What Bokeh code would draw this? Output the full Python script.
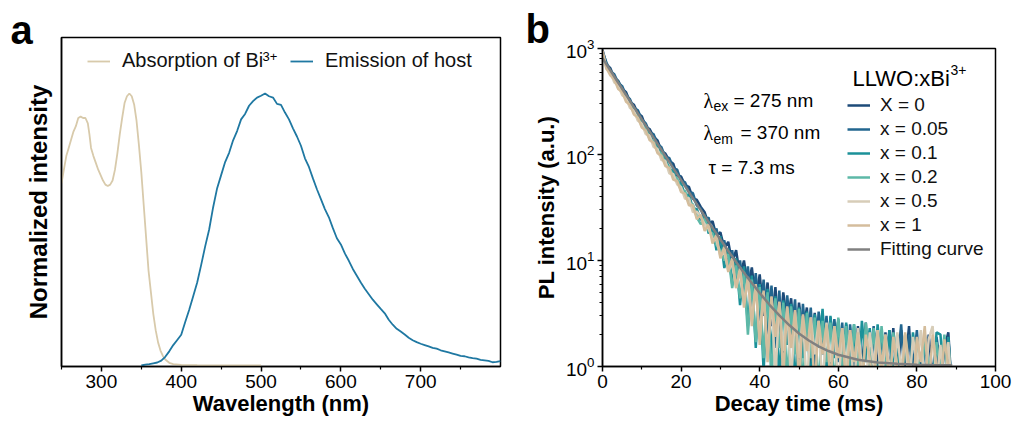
from bokeh.plotting import figure
from bokeh.models import Range1d, FixedTicker, Legend, LegendItem, Label
from bokeh.layouts import row, column
from bokeh.embed import file_html
from bokeh.resources import INLINE

FONT = "Liberation Sans"
SERIF = "Liberation Serif"

# ---------------- panel a data ----------------
abs_nm = [250, 253, 256, 259, 262, 265, 268, 271, 274, 277, 280, 283, 285, 287, 290, 293, 296, 299,
          302, 305, 308, 311, 314, 317, 320, 323, 326, 329, 332, 335, 338, 341, 344, 347, 350, 353,
          356, 359, 362, 365, 368, 371, 374, 377, 380, 385, 390, 400, 420, 450, 500]
abs_val = [0.67, 0.72, 0.77, 0.80, 0.83, 0.86, 0.88, 0.91, 0.915, 0.91, 0.91, 0.89, 0.85, 0.80, 0.77,
           0.745, 0.72, 0.70, 0.68, 0.665, 0.66, 0.665, 0.68, 0.72, 0.78, 0.85, 0.91, 0.965, 0.99, 1.0,
           0.99, 0.96, 0.90, 0.81, 0.71, 0.59, 0.47, 0.35, 0.27, 0.19, 0.13, 0.085, 0.055, 0.035, 0.022,
           0.01, 0.005, 0.002, 0.001, 0.0, 0.0]

em_nm = [350, 355, 360, 365, 370, 375, 380, 385, 390, 395, 400, 405, 410, 415, 420, 425, 430, 435,
         440, 445, 450, 455, 460, 465, 470, 475, 480, 485, 490, 495, 500, 505, 510, 515, 520, 525,
         530, 535, 540, 545, 550, 555, 560, 565, 570, 575, 580, 585, 590, 595, 600, 605, 610, 615,
         620, 625, 630, 635, 640, 645, 650, 655, 660, 665, 670, 675, 680, 685, 690, 695, 700, 705,
         710, 715, 720, 725, 730, 735, 740, 745, 750, 755, 760, 765, 770, 775, 780, 785, 790, 795, 800]
em_val = [0.000, 0.003, 0.005, 0.008, 0.011, 0.018, 0.032, 0.052, 0.075, 0.094, 0.113, 0.160, 0.205,
          0.255, 0.305, 0.370, 0.438, 0.500, 0.582, 0.652, 0.700, 0.748, 0.782, 0.828, 0.862, 0.905,
          0.925, 0.955, 0.972, 0.985, 0.992, 1.000, 0.990, 0.985, 0.962, 0.958, 0.930, 0.905, 0.872,
          0.842, 0.808, 0.762, 0.730, 0.688, 0.648, 0.612, 0.575, 0.545, 0.505, 0.468, 0.445, 0.412,
          0.385, 0.355, 0.330, 0.305, 0.282, 0.262, 0.242, 0.225, 0.208, 0.192, 0.168, 0.150, 0.135,
          0.125, 0.114, 0.102, 0.093, 0.086, 0.080, 0.075, 0.070, 0.065, 0.062, 0.056, 0.052, 0.048,
          0.044, 0.040, 0.035, 0.034, 0.030, 0.027, 0.025, 0.021, 0.019, 0.017, 0.012, 0.013, 0.016]

wl_major = [300, 400, 500, 600, 700]
wl_minor = [250, 350, 450, 550, 650, 750]

# ---------------- panel b data ----------------
decay_t = [0, 1, 2, 3, 4, 5, 6, 7, 8, 9, 10, 11, 12, 13, 14, 15, 16, 17, 18, 19, 20, 21, 22, 23, 24,
           25, 26, 27, 28, 29, 30, 31, 32, 33, 34, 35, 36, 37, 38, 39, 40, 41, 42, 43, 44,
           45, 46, 47, 48, 49, 50, 51, 52, 53, 54, 55, 56, 57, 58, 59, 60, 61, 62, 63, 64,
           65, 66, 67, 68, 69, 70, 71, 72, 73, 74, 75, 76, 77, 78, 79, 80, 81, 82, 83, 84,
           85, 86, 87, 88, 89]
decay_x0 = [973, 710, 652, 528, 495, 417, 387, 313, 294, 245, 229.5, 182, 174, 147, 136, 108, 102,
            87.5, 82, 63.3, 61.9, 51.3, 49.4, 38.3, 37.4,
            32, 28.5, 22, 23.5, 17, 18.5, 13, 15, 9.5, 12.5,
            7, 10, 5.5, 8.6, 4.2, 7.4, 3.0, 6.2, 2.4, 5.6,
            1.8, 5.0, 2.6, 4.4, 1.4, 4.0, 2.0, 3.6, 0.9, 3.2,
            1.6, 3.3, 0.8, 2.9, 1.3, 2.7, 0.7, 2.5, 1.2, 0.6,
            2.4, 1.0, 2.6, 0.6, 2.2, 1.1, 0.6, 2.1, 0.9, 2.3,
            0.6, 2.2, 1.0, 2.4, 0.6, 1.9, 1.0, 0.6, 2.0, 0.8,
            1.7, 0.6, 1.5, 2.1, 0.5]
decay_x005 = [933, 738, 609, 571, 476, 442, 361, 332, 272, 262, 214.5, 197, 161, 155.5, 126, 117, 94,
              92.7, 74.5, 71.8, 56.2, 54.8, 44.1, 43.3, 33,
              31, 24, 25.5, 17.5, 20, 12.5, 15.5, 9, 12.5, 6.5,
              10, 5, 8.8, 3.6, 7.6, 2.7, 6.6, 2.0, 5.8, 1.5,
              5.2, 1.0, 4.7, 1.9, 4.3, 0.8, 3.9, 1.5, 3.6, 0.8,
              3.3, 1.3, 3.0, 0.7, 2.8, 1.1, 2.6, 0.6, 2.5, 1.0,
              2.3, 0.6, 2.1, 1.1, 2.4, 0.6, 2.0, 0.9, 2.2, 0.6,
              1.0, 2.5, 0.6, 2.0, 1.0, 2.2, 0.6, 1.6, 0.9, 0.6,
              1.9, 1.0, 0.6, 1.8, 0.5]
decay_x01 = [892, 689, 621, 517, 486, 392, 365, 297, 277, 225, 210, 169, 160, 127, 121, 99.5, 92, 73,
             70, 55.5, 53.3, 41.2, 41.9, 31, 30.6,
             24, 27, 18, 21, 12.5, 17, 8.5, 13, 6, 10.5,
             3.8, 8.8, 2.4, 7.2, 1.5, 6.0, 0.9, 5.4, 1.3, 4.6,
             0.7, 4.2, 1.6, 3.9, 0.6, 3.6, 1.2, 3.3, 0.6, 3.1,
             1.5, 3.5, 0.7, 3.0, 1.2, 2.8, 0.6, 2.6, 1.0, 2.5,
             0.6, 2.7, 1.1, 2.3, 0.6, 2.5, 1.0, 0.6, 2.2, 0.9,
             2.0, 0.6, 1.8, 0.6, 2.1, 1.0, 0.6, 2.0, 1.0, 0.6,
             2.1, 2.0, 0.6, 1.9, 0.5]
decay_x02 = [852, 675, 578, 528, 428, 400, 328.5, 303.5, 246, 230, 186.6, 175, 141.5, 132.5, 107, 103,
             81.5, 76.5, 61, 60, 45.8, 45.3, 34.4, 34, 25.5,
             22, 25, 19, 18, 14, 12.5, 10, 11.5, 5.5, 9,
             4.4, 7.8, 2.0, 6.6, 1.7, 5.6, 1.2, 5.0, 0.7, 4.4,
             1.5, 4.0, 0.7, 3.7, 1.3, 3.5, 0.6, 3.2, 1.2, 2.9,
             0.6, 2.7, 1.1, 2.6, 0.6, 2.9, 1.0, 2.4, 0.6, 2.5,
             1.1, 0.6, 2.6, 1.0, 2.3, 0.6, 2.4, 1.0, 0.6, 2.1,
             1.0, 0.6, 2.0, 1.0, 0.6, 1.8, 0.6, 2.0, 1.1, 0.6,
             1.7, 0.9, 2.0, 0.6, 0.5]
decay_x05 = [908, 639, 596, 479, 452, 363, 343, 275, 260, 208, 197, 156, 151, 118, 113, 88.5, 87.3,
             66.3, 65.6, 52.2, 49.3, 38.2, 38.8, 28.6, 28.9,
             26, 22, 20, 16, 15.5, 11, 12, 8, 9.5, 5.5,
             8, 4, 6.8, 2.8, 5.8, 1.9, 5.0, 1.3, 4.5, 0.8,
             4.0, 1.4, 3.6, 0.7, 3.3, 1.2, 3.0, 0.6, 2.9, 1.3,
             2.7, 0.6, 2.6, 1.1, 2.4, 0.6, 2.3, 1.0, 2.2, 0.6,
             2.3, 1.0, 0.6, 2.1, 1.0, 2.2, 0.6, 2.0, 1.0, 0.6,
             2.1, 0.9, 2.0, 0.6, 1.9, 1.0, 2.2, 0.6, 1.8, 2.4,
             0.7, 1.6, 0.6, 1.7, 0.5]
decay_x1 = [957, 653, 559, 511, 414, 388, 314, 294, 238, 223, 180, 169, 136.5, 129.6, 103, 97.3, 77.6,
            74.8, 58.1, 56.2, 44.1, 42.8, 33.1, 33.3, 24.5,
            27, 19, 22, 14.5, 17.5, 10.5, 13.5, 7.8, 10.5, 5.5,
            8.6, 3.6, 7.0, 2.4, 6.0, 1.6, 5.2, 1.1, 4.6, 1.9,
            4.1, 0.8, 3.7, 1.5, 3.4, 0.7, 3.1, 1.4, 2.9, 0.6,
            2.7, 1.3, 2.5, 0.7, 2.4, 1.2, 2.3, 0.6, 2.2, 1.1,
            2.1, 0.6, 2.0, 1.2, 0.6, 2.2, 1.0, 2.0, 0.6, 1.9,
            1.0, 0.6, 2.1, 1.0, 0.6, 1.9, 1.1, 2.4, 0.6, 2.0,
            1.0, 0.6, 1.8, 1.0, 0.5]

fit_t = [0, 2.5, 5, 7.5, 10, 12.5, 15, 17.5, 20, 22.5, 25, 27.5, 30, 32.5, 35, 37.5, 40, 42.5, 45,
         47.5, 50, 52.5, 55, 57.5, 60, 65, 70, 75, 80, 85, 89]
fit_val = [811, 581, 417, 299, 214.5, 154, 110.6, 79.5, 57.3, 41.3, 29.9, 21.7, 15.8, 11.6, 8.6, 6.48,
           4.93, 3.82, 3.03, 2.46, 2.05, 1.76, 1.55, 1.40, 1.29, 1.16, 1.09, 1.06, 1.04, 1.03, 1.03]

series_labels = ["X = 0", "x = 0.05", "x = 0.1", "x = 0.2", "x = 0.5", "x = 1"]
series_values = [decay_x0, decay_x005, decay_x01, decay_x02, decay_x05, decay_x1]
series_colors = ["#1d4a78", "#22668f", "#1b9199", "#5db8a7", "#d7cdb8", "#d4bd9c"]

time_major = [0, 20, 40, 60, 80, 100]
time_minor = [10, 30, 50, 70, 90]
pl_major = [1, 10, 100, 1000]
pl_minor = [2, 3, 4, 5, 6, 7, 8, 9, 20, 30, 40, 50, 60, 70, 80, 90, 200, 300, 400, 500, 600, 700, 800, 900]


def style_axis(ax):
    ax.axis_line_width = 1.5
    ax.axis_line_color = "black"
    ax.major_tick_line_width = 1.5
    ax.major_tick_line_color = "black"
    ax.minor_tick_line_width = 1.2
    ax.minor_tick_line_color = "black"
    ax.major_tick_in = 0
    ax.major_tick_out = 5
    ax.minor_tick_in = 0
    ax.minor_tick_out = 3
    ax.major_label_text_font = FONT
    ax.major_label_text_font_size = "19px"
    ax.major_label_text_color = "black"
    ax.major_label_standoff = 3
    ax.axis_label_text_font = FONT
    ax.axis_label_text_font_size = "22px"
    ax.axis_label_text_font_style = "bold"
    ax.axis_label_text_color = "black"
    ax.axis_label_standoff = 0


def lab(p, x, y, text, dx, dy, size, font=FONT, style="normal", align="left", color="black"):
    p.add_layout(Label(x=x, y=y, x_offset=dx, y_offset=dy, text=text, text_font=font,
                       text_font_size=size, text_font_style=style, text_align=align,
                       text_baseline="middle", text_color=color))


def panel_letter(p, offset, standoff):
    p.title.text_font = FONT
    p.title.text_font_size = "40px"
    p.title.text_font_style = "bold"
    p.title.text_color = "black"
    p.title.align = "left"
    p.title.offset = offset
    p.title.standoff = standoff


# ---------------- panel a ----------------
pa = figure(width=510, height=421, x_range=Range1d(250, 800), y_range=Range1d(-0.0037, 1.206),
            title="a", output_backend="svg", toolbar_location=None,
            min_border_left=61, min_border_right=10, min_border_top=37, min_border_bottom=55)
panel_letter(pa, -51, -29)
pa.grid.visible = False
pa.outline_line_color = "black"
pa.outline_line_width = 1.5
pa.outline_line_alpha = 1

r_abs = pa.line(abs_nm, abs_val, line_color="#d8caab", line_width=1.8)
r_em = pa.line(em_nm, em_val, line_color="#1f78a2", line_width=1.8)

style_axis(pa.xaxis[0])
pa.xaxis.ticker = FixedTicker(ticks=wl_major, minor_ticks=wl_minor)
pa.xaxis.axis_label = "Wavelength (nm)"
ya = pa.yaxis[0]
style_axis(ya)
ya.ticker = FixedTicker(ticks=[], minor_ticks=[])
ya.major_tick_out = 0
ya.minor_tick_out = 0
ya.axis_label = "Normalized intensity"
ya.axis_label_text_font_size = "24px"
ya.axis_label_standoff = 10

for item_label, rend, xloc in [("Absorption of Bi", r_abs, 26), ("Emission of host", r_em, 229)]:
    lg = Legend(items=[LegendItem(label=item_label, renderers=[rend])], location=(xloc, 294),
                orientation="horizontal", border_line_color=None, background_fill_alpha=0,
                padding=0, margin=0, spacing=0, glyph_width=23, glyph_height=20,
                label_height=20, label_standoff=12, label_text_font=FONT,
                label_text_font_size="20px", label_text_color="#111111")
    pa.add_layout(lg)

lab(pa, 250, -0.0037, "3+", 201, 310, "13px")

# ---------------- panel b ----------------
pb = figure(width=503, height=421, x_range=Range1d(0, 100), y_range=Range1d(1, 1000),
            y_axis_type="log", title="b", output_backend="svg", toolbar_location=None,
            min_border_left=92, min_border_right=18, min_border_top=48, min_border_bottom=55)
panel_letter(pb, -77, -5)
pb.grid.visible = False
pb.outline_line_color = "black"
pb.outline_line_width = 1.5
pb.outline_line_alpha = 1

items = []
for name, vals, col in zip(series_labels, series_values, series_colors):
    r = pb.line(decay_t, vals, line_color=col, line_width=2.5)
    items.append(LegendItem(label=name, renderers=[r]))
r_fit = pb.line(fit_t, fit_val, line_color="#808080", line_width=2.5)
items.append(LegendItem(label="Fitting curve", renderers=[r_fit]))

style_axis(pb.xaxis[0])
pb.xaxis.ticker = FixedTicker(ticks=time_major, minor_ticks=time_minor)
pb.xaxis.axis_label = "Decay time (ms)"
style_axis(pb.yaxis[0])
pb.yaxis.ticker = FixedTicker(ticks=pl_major, minor_ticks=pl_minor)
pb.yaxis.axis_label = "PL intensity (a.u.)"
pb.yaxis.axis_label_standoff = 4

lgb = Legend(items=items, location=(245, 106), border_line_color=None, background_fill_alpha=0,
             padding=0, margin=0, spacing=2, glyph_width=23, glyph_height=20, label_height=20,
             label_standoff=10, label_text_font=FONT, label_text_font_size="19px",
             label_text_color="#111111")
pb.add_layout(lgb)

lab(pb, 0, 1, "LLWO:xBi", 250, 288, "22px")
lab(pb, 0, 1, "3+", 348, 297, "14px")

lab(pb, 0, 1, "\u03bb", 101, 266, "20px", font=SERIF)
lab(pb, 0, 1, "ex", 111, 261, "14px")
lab(pb, 0, 1, "= 275 nm", 131, 266, "19px")
lab(pb, 0, 1, "\u03bb", 101, 234, "20px", font=SERIF)
lab(pb, 0, 1, "em", 111, 228, "14px")
lab(pb, 0, 1, "= 370 nm", 138, 234, "19px")
lab(pb, 0, 1, "\u03c4 = 7.3 ms", 106, 199, "19px")

layout = row(column(pa), column(pb))
open("out.html", "w").write(file_html(layout, INLINE))
